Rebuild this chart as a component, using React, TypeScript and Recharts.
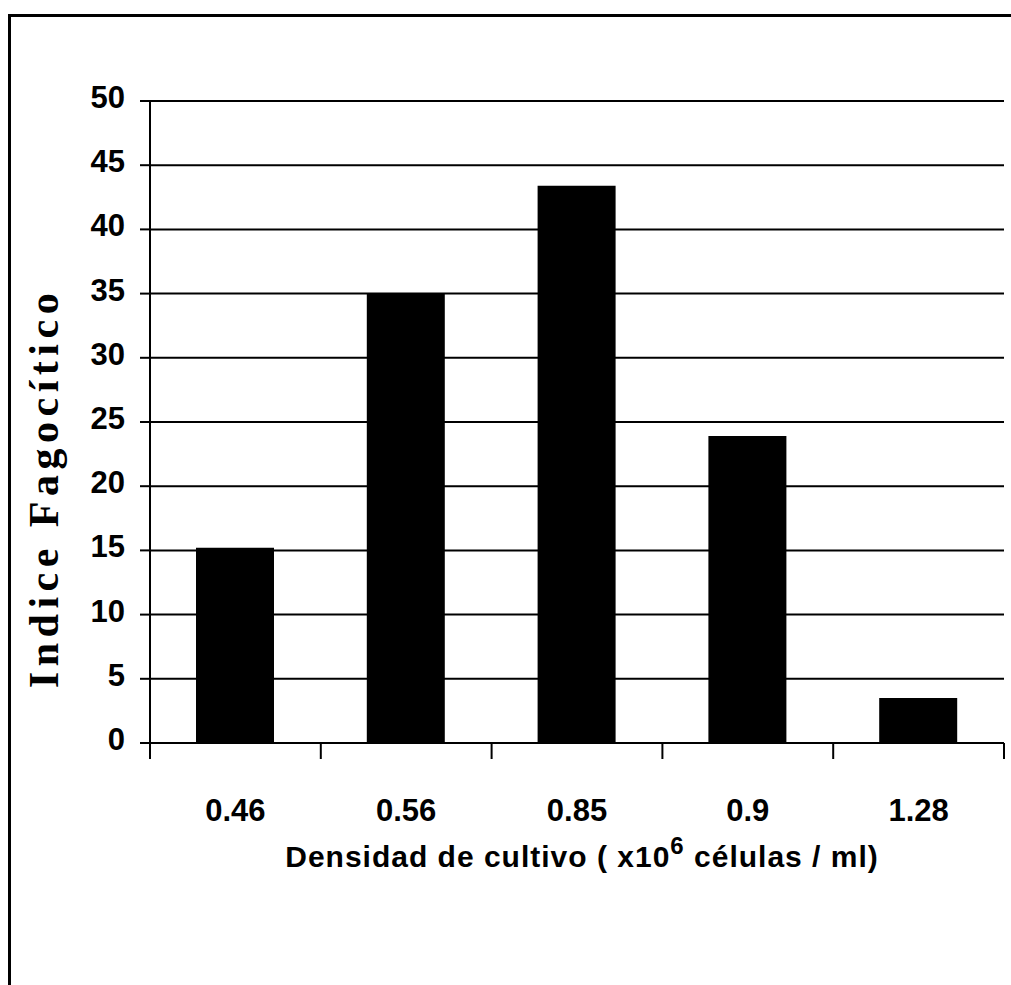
import { BarChart, Bar, XAxis, YAxis, CartesianGrid } from "recharts";

const densities = ["0.46", "0.56", "0.85", "0.9", "1.28"];
const phagoIndex = [15.2, 35.0, 43.4, 23.9, 3.5];
const yTicks = [0, 5, 10, 15, 20, 25, 30, 35, 40, 45, 50];

const data = densities.map((d, i) => ({ density: d, value: phagoIndex[i] }));

const sans = "'Liberation Sans', Arial, sans-serif";
const serif = "'Liberation Serif', 'Times New Roman', serif";

// category label plus tick marks on the band edges (Excel-style)
function CatTick(props: any) {
  const { x, y, payload, index, visibleTicksCount, width } = props;
  const band = width / visibleTicksCount;
  const left = x - band / 2;
  const right = x + band / 2;
  const last = index === visibleTicksCount - 1;
  return (
    <g>
      <line x1={left} x2={left} y1={y} y2={y + 16} stroke="#000" strokeWidth={2} />
      {last && <line x1={right} x2={right} y1={y} y2={y + 16} stroke="#000" strokeWidth={2} />}
      <text x={x} y={y + 78} textAnchor="middle" fontFamily={sans} fontWeight="bold" fontSize={31} fill="#000">
        {payload.value}
      </text>
    </g>
  );
}

function XTitle(props: any) {
  const { viewBox } = props;
  const cx = viewBox.x + viewBox.width / 2 + 5;
  return (
    <text
      x={cx}
      y={viewBox.y + 124}
      textAnchor="middle"
      fontFamily={sans}
      fontWeight="bold"
      fontSize={30}
      letterSpacing={1}
      fill="#000"
    >
      Densidad de cultivo ( x10
      <tspan dy={-13} fontSize={24}>6</tspan>
      <tspan dy={13}> células / ml)</tspan>
    </text>
  );
}

function YTitle(props: any) {
  const { viewBox } = props;
  const cx = 44;
  const cy = viewBox.y + viewBox.height / 2 + 66;
  return (
    <text
      x={cx}
      y={cy}
      transform={`rotate(-90, ${cx}, ${cy})`}
      textAnchor="middle"
      dominantBaseline="central"
      fontFamily={serif}
      fontWeight="bold"
      fontSize={42}
      letterSpacing={5.5}
      fill="#000"
    >
      Indice Fagocítico
    </text>
  );
}

export default function App() {
  return (
    <div style={{ position: "absolute", left: 0, top: 0, width: 1011, height: 985, background: "#fff" }}>
      {/* scanned frame: only top and left edges visible */}
      <div
        style={{
          position: "absolute",
          left: 8,
          top: 14,
          width: 1011,
          height: 985,
          borderTop: "3px solid #000",
          borderLeft: "3px solid #000",
        }}
      />
      <div style={{ position: "absolute", left: 0, top: 0 }}>
        <BarChart
          width={1011}
          height={985}
          data={data}
          margin={{ top: 101, right: 7, bottom: 182, left: 0 }}
          barSize={78}
        >
          <CartesianGrid vertical={false} stroke="#000" strokeWidth={2} strokeOpacity={1} />
          <XAxis
            dataKey="density"
            stroke="#000"
            strokeWidth={2}
            tickLine={false}
            tickSize={0}
            tickMargin={0}
            interval={0}
            tick={<CatTick />}
            height={60}
            label={<XTitle />}
          />
          <YAxis
            domain={[0, 50]}
            ticks={yTicks}
            interval={0}
            width={150}
            tickSize={10}
            tickMargin={15}
            stroke="#000"
            strokeWidth={2}
            tick={{ fill: "#000", fontSize: 31, fontWeight: "bold", fontFamily: sans, dy: -4 }}
            label={<YTitle />}
          />
          <Bar dataKey="value" fill="#000" isAnimationActive={false} />
        </BarChart>
      </div>
    </div>
  );
}
